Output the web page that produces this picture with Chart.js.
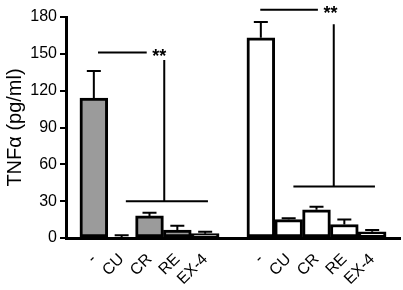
<!DOCTYPE html>
<html>
<head>
<meta charset="utf-8">
<script src="https://cdn.jsdelivr.net/npm/chart.js@4"></script>
<style>
html, body { margin: 0; padding: 0; background: #fff; }
#wrap { width: 403px; height: 290px; }
</style>
</head>
<body>
<div id="wrap"><canvas id="chart" width="403" height="290"></canvas></div>
<script>
// groups: first grey, then white
const treatments = ["-", "CU", "CR", "RE", "EX-4"];
const greyMeans = [114, 0, 18, 6.5, 3.5];
const greyErrors = [22, 2.3, 2.5, 3.5, 1.5];
const whiteMeans = [163, 15, 23, 11, 5];
const whiteErrors = [13, 1, 2.5, 4, 1.5];
const yTicks = [0, 30, 60, 90, 120, 150, 180];
// significance brackets: [topLineFrom, topLineTo, starsX, starsY, drop x, drop top, baseFrom, baseTo, baseY] in category units / data units
const brackets = [
  [1.15, 2.9, 3.35, 151, 3.53, 145, 2.15, 5.1, 30],
  [6.98, 9.05, 9.5, 186, 9.62, 174, 8.17, 11.1, 42]
];

// labels with a blank slot at each end and between the groups
const labels = [""].concat(treatments, [""], treatments, [""]);
const values = [null].concat(greyMeans, [null], whiteMeans, [null]);
const errors = [null].concat(greyErrors, [null], whiteErrors, [null]);
const fills = labels.map((l, i) => i < 6 ? "#9b9b9b" : "#ffffff");

const font = "'Liberation Sans', Arial, sans-serif";

const errorBars = {
  id: "errorBars",
  afterDatasetsDraw(chart) {
    const ctx = chart.ctx;
    const y = chart.scales.y;
    const meta = chart.getDatasetMeta(0);
    ctx.save();
    ctx.strokeStyle = "#000";
    ctx.lineWidth = 2;
    values.forEach((v, i) => {
      if (v === null) return;
      const x = meta.data[i].x;
      const top = y.getPixelForValue(v + errors[i]);
      const base = y.getPixelForValue(v);
      ctx.beginPath();
      ctx.moveTo(x, base);
      ctx.lineTo(x, top);
      ctx.moveTo(x - 7, top);
      ctx.lineTo(x + 7, top);
      ctx.stroke();
    });
    ctx.restore();
  }
};

const sigLines = {
  id: "sigLines",
  afterDraw(chart) {
    const ctx = chart.ctx;
    const x = chart.scales.x;
    const y = chart.scales.y;
    ctx.save();
    ctx.strokeStyle = "#000";
    ctx.fillStyle = "#000";
    ctx.lineWidth = 2;
    ctx.font = "bold 18px " + font;
    ctx.textAlign = "center";
    ctx.textBaseline = "middle";
    brackets.forEach(b => {
      const ty = y.getPixelForValue(b[3]);
      ctx.beginPath();
      ctx.moveTo(x.getPixelForValue(b[0]), ty);
      ctx.lineTo(x.getPixelForValue(b[1]), ty);
      const dx = x.getPixelForValue(b[4]);
      ctx.moveTo(dx, y.getPixelForValue(b[5]));
      ctx.lineTo(dx, y.getPixelForValue(b[8]));
      const by = y.getPixelForValue(b[8]);
      ctx.moveTo(x.getPixelForValue(b[6]), by);
      ctx.lineTo(x.getPixelForValue(b[7]), by);
      ctx.stroke();
      ctx.fillText("**", x.getPixelForValue(b[2]), ty + 4);
    });
    ctx.restore();
  }
};

new Chart(document.getElementById("chart"), {
  type: "bar",
  data: {
    labels: labels,
    datasets: [{
      data: values,
      backgroundColor: fills,
      borderColor: "#000",
      borderWidth: 3,
      borderSkipped: false,
      categoryPercentage: 1,
      barPercentage: 1
    }]
  },
  options: {
    responsive: false,
    animation: false,
    layout: { padding: { top: 17, right: 3, left: 0, bottom: 0 } },
    plugins: { legend: { display: false }, tooltip: { enabled: false } },
    scales: {
      x: {
        offset: false,
        grid: { display: false, drawTicks: false },
        border: { display: true, color: "#000", width: 3 },
        ticks: {
          autoSkip: false,
          minRotation: 45,
          maxRotation: 45,
          padding: 12,
          color: "#000",
          font: { family: font, size: 16 }
        },
        afterFit(scale) {
          scale.height = 52;
          scale.paddingLeft = 0;
          scale.paddingRight = 0;
        }
      },
      y: {
        min: 0,
        max: 180,
        afterBuildTicks(scale) { scale.ticks = yTicks.map(v => ({ value: v })); },
        grid: { drawOnChartArea: false, color: "#000", lineWidth: 2, tickLength: 6 },
        border: { display: true, color: "#000", width: 3 },
        ticks: {
          padding: 3,
          color: "#000",
          font: { family: font, size: 16 }
        },
        title: {
          display: true,
          text: "TNFα (pg/ml)",
          color: "#000",
          padding: { top: 3, bottom: 0 },
          font: { family: font, size: 20 }
        },
        afterFit(scale) { scale.width = 66; }
      }
    }
  },
  plugins: [errorBars, sigLines]
});
</script>
</body>
</html>
